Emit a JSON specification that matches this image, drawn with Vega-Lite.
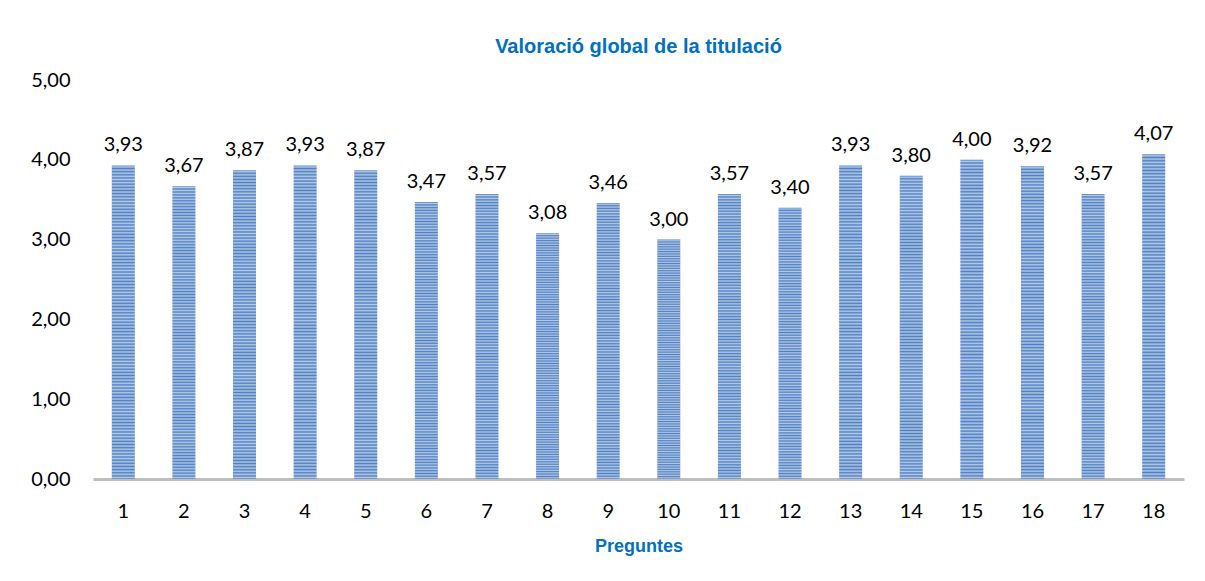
{
  "$schema": "https://vega.github.io/schema/vega-lite/v6.json",
  "width": 1091,
  "height": 399,
  "autosize": {"type": "none"},
  "padding": {"left": 93, "top": 80, "right": 21, "bottom": 102},
  "background": "white",
  "config": {
    "locale": {"number": {"decimal": ",", "thousands": ".", "grouping": [3], "currency": ["", " €"]}},
    "view": {"stroke": null},
    "font": "Lato"
  },
  "title": {
    "text": "Valoració global de la titulació",
    "font": "Liberation Sans",
    "fontSize": 20,
    "fontWeight": "bold",
    "color": "#0070C0",
    "anchor": "middle",
    "offset": 13
  },
  "data": {
    "values": [
      {"q": 1, "v": 3.93}, {"q": 2, "v": 3.67}, {"q": 3, "v": 3.87}, {"q": 4, "v": 3.93},
      {"q": 5, "v": 3.87}, {"q": 6, "v": 3.47}, {"q": 7, "v": 3.57}, {"q": 8, "v": 3.08},
      {"q": 9, "v": 3.46}, {"q": 10, "v": 3.00}, {"q": 11, "v": 3.57}, {"q": 12, "v": 3.40},
      {"q": 13, "v": 3.93}, {"q": 14, "v": 3.80}, {"q": 15, "v": 4.00}, {"q": 16, "v": 3.92},
      {"q": 17, "v": 3.57}, {"q": 18, "v": 4.07}
    ]
  },
  "encoding": {
    "x": {
      "field": "q", "type": "ordinal",
      "scale": {"paddingInner": 0.62, "paddingOuter": 0.31},
      "axis": {
        "title": "Preguntes", "titleFont": "Liberation Sans", "titleFontSize": 18, "titleFontWeight": "bold",
        "titleColor": "#0070C0", "titlePadding": 16,
        "labelAngle": 0, "labelFontSize": 20, "labelColor": "#000000", "labelPadding": 22,
        "ticks": false, "domainColor": "#BFBFBF", "domainWidth": 3
      }
    },
    "y": {
      "field": "v", "type": "quantitative",
      "scale": {"domain": [0, 5]},
      "axis": {
        "title": null, "values": [0, 1, 2, 3, 4, 5], "format": ".2f",
        "labelFontSize": 20, "labelColor": "#000000", "labelPadding": 23,
        "ticks": false, "domain": false, "grid": false
      }
    }
  },
  "layer": [
    {"mark": {"type": "bar", "color": {"gradient": "linear", "x1": 0, "y1": 0, "x2": 0, "y2": 1, "stops": [
      {"offset": 0, "color": "#4F7FC0"}, {"offset": 0.005, "color": "#B4CAE8"},
      {"offset": 0.01, "color": "#4F7FC0"}, {"offset": 0.015, "color": "#B4CAE8"},
      {"offset": 0.02, "color": "#4F7FC0"}, {"offset": 0.025, "color": "#B4CAE8"},
      {"offset": 0.03, "color": "#4F7FC0"}, {"offset": 0.035, "color": "#B4CAE8"},
      {"offset": 0.04, "color": "#4F7FC0"}, {"offset": 0.045, "color": "#B4CAE8"},
      {"offset": 0.05, "color": "#4F7FC0"}, {"offset": 0.055, "color": "#B4CAE8"},
      {"offset": 0.06, "color": "#4F7FC0"}, {"offset": 0.065, "color": "#B4CAE8"},
      {"offset": 0.07, "color": "#4F7FC0"}, {"offset": 0.075, "color": "#B4CAE8"},
      {"offset": 0.08, "color": "#4F7FC0"}, {"offset": 0.085, "color": "#B4CAE8"},
      {"offset": 0.09, "color": "#4F7FC0"}, {"offset": 0.095, "color": "#B4CAE8"},
      {"offset": 0.1, "color": "#4F7FC0"}, {"offset": 0.105, "color": "#B4CAE8"},
      {"offset": 0.11, "color": "#4F7FC0"}, {"offset": 0.115, "color": "#B4CAE8"},
      {"offset": 0.12, "color": "#4F7FC0"}, {"offset": 0.125, "color": "#B4CAE8"},
      {"offset": 0.13, "color": "#4F7FC0"}, {"offset": 0.135, "color": "#B4CAE8"},
      {"offset": 0.14, "color": "#4F7FC0"}, {"offset": 0.145, "color": "#B4CAE8"},
      {"offset": 0.15, "color": "#4F7FC0"}, {"offset": 0.155, "color": "#B4CAE8"},
      {"offset": 0.16, "color": "#4F7FC0"}, {"offset": 0.165, "color": "#B4CAE8"},
      {"offset": 0.17, "color": "#4F7FC0"}, {"offset": 0.175, "color": "#B4CAE8"},
      {"offset": 0.18, "color": "#4F7FC0"}, {"offset": 0.185, "color": "#B4CAE8"},
      {"offset": 0.19, "color": "#4F7FC0"}, {"offset": 0.195, "color": "#B4CAE8"},
      {"offset": 0.2, "color": "#4F7FC0"}, {"offset": 0.205, "color": "#B4CAE8"},
      {"offset": 0.21, "color": "#4F7FC0"}, {"offset": 0.215, "color": "#B4CAE8"},
      {"offset": 0.22, "color": "#4F7FC0"}, {"offset": 0.225, "color": "#B4CAE8"},
      {"offset": 0.23, "color": "#4F7FC0"}, {"offset": 0.235, "color": "#B4CAE8"},
      {"offset": 0.24, "color": "#4F7FC0"}, {"offset": 0.245, "color": "#B4CAE8"},
      {"offset": 0.25, "color": "#4F7FC0"}, {"offset": 0.255, "color": "#B4CAE8"},
      {"offset": 0.26, "color": "#4F7FC0"}, {"offset": 0.265, "color": "#B4CAE8"},
      {"offset": 0.27, "color": "#4F7FC0"}, {"offset": 0.275, "color": "#B4CAE8"},
      {"offset": 0.28, "color": "#4F7FC0"}, {"offset": 0.285, "color": "#B4CAE8"},
      {"offset": 0.29, "color": "#4F7FC0"}, {"offset": 0.295, "color": "#B4CAE8"},
      {"offset": 0.3, "color": "#4F7FC0"}, {"offset": 0.305, "color": "#B4CAE8"},
      {"offset": 0.31, "color": "#4F7FC0"}, {"offset": 0.315, "color": "#B4CAE8"},
      {"offset": 0.32, "color": "#4F7FC0"}, {"offset": 0.325, "color": "#B4CAE8"},
      {"offset": 0.33, "color": "#4F7FC0"}, {"offset": 0.335, "color": "#B4CAE8"},
      {"offset": 0.34, "color": "#4F7FC0"}, {"offset": 0.345, "color": "#B4CAE8"},
      {"offset": 0.35, "color": "#4F7FC0"}, {"offset": 0.355, "color": "#B4CAE8"},
      {"offset": 0.36, "color": "#4F7FC0"}, {"offset": 0.365, "color": "#B4CAE8"},
      {"offset": 0.37, "color": "#4F7FC0"}, {"offset": 0.375, "color": "#B4CAE8"},
      {"offset": 0.38, "color": "#4F7FC0"}, {"offset": 0.385, "color": "#B4CAE8"},
      {"offset": 0.39, "color": "#4F7FC0"}, {"offset": 0.395, "color": "#B4CAE8"},
      {"offset": 0.4, "color": "#4F7FC0"}, {"offset": 0.405, "color": "#B4CAE8"},
      {"offset": 0.41, "color": "#4F7FC0"}, {"offset": 0.415, "color": "#B4CAE8"},
      {"offset": 0.42, "color": "#4F7FC0"}, {"offset": 0.425, "color": "#B4CAE8"},
      {"offset": 0.43, "color": "#4F7FC0"}, {"offset": 0.435, "color": "#B4CAE8"},
      {"offset": 0.44, "color": "#4F7FC0"}, {"offset": 0.445, "color": "#B4CAE8"},
      {"offset": 0.45, "color": "#4F7FC0"}, {"offset": 0.455, "color": "#B4CAE8"},
      {"offset": 0.46, "color": "#4F7FC0"}, {"offset": 0.465, "color": "#B4CAE8"},
      {"offset": 0.47, "color": "#4F7FC0"}, {"offset": 0.475, "color": "#B4CAE8"},
      {"offset": 0.48, "color": "#4F7FC0"}, {"offset": 0.485, "color": "#B4CAE8"},
      {"offset": 0.49, "color": "#4F7FC0"}, {"offset": 0.495, "color": "#B4CAE8"},
      {"offset": 0.5, "color": "#4F7FC0"}, {"offset": 0.505, "color": "#B4CAE8"},
      {"offset": 0.51, "color": "#4F7FC0"}, {"offset": 0.515, "color": "#B4CAE8"},
      {"offset": 0.52, "color": "#4F7FC0"}, {"offset": 0.525, "color": "#B4CAE8"},
      {"offset": 0.53, "color": "#4F7FC0"}, {"offset": 0.535, "color": "#B4CAE8"},
      {"offset": 0.54, "color": "#4F7FC0"}, {"offset": 0.545, "color": "#B4CAE8"},
      {"offset": 0.55, "color": "#4F7FC0"}, {"offset": 0.555, "color": "#B4CAE8"},
      {"offset": 0.56, "color": "#4F7FC0"}, {"offset": 0.565, "color": "#B4CAE8"},
      {"offset": 0.57, "color": "#4F7FC0"}, {"offset": 0.575, "color": "#B4CAE8"},
      {"offset": 0.58, "color": "#4F7FC0"}, {"offset": 0.585, "color": "#B4CAE8"},
      {"offset": 0.59, "color": "#4F7FC0"}, {"offset": 0.595, "color": "#B4CAE8"},
      {"offset": 0.6, "color": "#4F7FC0"}, {"offset": 0.605, "color": "#B4CAE8"},
      {"offset": 0.61, "color": "#4F7FC0"}, {"offset": 0.615, "color": "#B4CAE8"},
      {"offset": 0.62, "color": "#4F7FC0"}, {"offset": 0.625, "color": "#B4CAE8"},
      {"offset": 0.63, "color": "#4F7FC0"}, {"offset": 0.635, "color": "#B4CAE8"},
      {"offset": 0.64, "color": "#4F7FC0"}, {"offset": 0.645, "color": "#B4CAE8"},
      {"offset": 0.65, "color": "#4F7FC0"}, {"offset": 0.655, "color": "#B4CAE8"},
      {"offset": 0.66, "color": "#4F7FC0"}, {"offset": 0.665, "color": "#B4CAE8"},
      {"offset": 0.67, "color": "#4F7FC0"}, {"offset": 0.675, "color": "#B4CAE8"},
      {"offset": 0.68, "color": "#4F7FC0"}, {"offset": 0.685, "color": "#B4CAE8"},
      {"offset": 0.69, "color": "#4F7FC0"}, {"offset": 0.695, "color": "#B4CAE8"},
      {"offset": 0.7, "color": "#4F7FC0"}, {"offset": 0.705, "color": "#B4CAE8"},
      {"offset": 0.71, "color": "#4F7FC0"}, {"offset": 0.715, "color": "#B4CAE8"},
      {"offset": 0.72, "color": "#4F7FC0"}, {"offset": 0.725, "color": "#B4CAE8"},
      {"offset": 0.73, "color": "#4F7FC0"}, {"offset": 0.735, "color": "#B4CAE8"},
      {"offset": 0.74, "color": "#4F7FC0"}, {"offset": 0.745, "color": "#B4CAE8"},
      {"offset": 0.75, "color": "#4F7FC0"}, {"offset": 0.755, "color": "#B4CAE8"},
      {"offset": 0.76, "color": "#4F7FC0"}, {"offset": 0.765, "color": "#B4CAE8"},
      {"offset": 0.77, "color": "#4F7FC0"}, {"offset": 0.775, "color": "#B4CAE8"},
      {"offset": 0.78, "color": "#4F7FC0"}, {"offset": 0.785, "color": "#B4CAE8"},
      {"offset": 0.79, "color": "#4F7FC0"}, {"offset": 0.795, "color": "#B4CAE8"},
      {"offset": 0.8, "color": "#4F7FC0"}, {"offset": 0.805, "color": "#B4CAE8"},
      {"offset": 0.81, "color": "#4F7FC0"}, {"offset": 0.815, "color": "#B4CAE8"},
      {"offset": 0.82, "color": "#4F7FC0"}, {"offset": 0.825, "color": "#B4CAE8"},
      {"offset": 0.83, "color": "#4F7FC0"}, {"offset": 0.835, "color": "#B4CAE8"},
      {"offset": 0.84, "color": "#4F7FC0"}, {"offset": 0.845, "color": "#B4CAE8"},
      {"offset": 0.85, "color": "#4F7FC0"}, {"offset": 0.855, "color": "#B4CAE8"},
      {"offset": 0.86, "color": "#4F7FC0"}, {"offset": 0.865, "color": "#B4CAE8"},
      {"offset": 0.87, "color": "#4F7FC0"}, {"offset": 0.875, "color": "#B4CAE8"},
      {"offset": 0.88, "color": "#4F7FC0"}, {"offset": 0.885, "color": "#B4CAE8"},
      {"offset": 0.89, "color": "#4F7FC0"}, {"offset": 0.895, "color": "#B4CAE8"},
      {"offset": 0.9, "color": "#4F7FC0"}, {"offset": 0.905, "color": "#B4CAE8"},
      {"offset": 0.91, "color": "#4F7FC0"}, {"offset": 0.915, "color": "#B4CAE8"},
      {"offset": 0.92, "color": "#4F7FC0"}, {"offset": 0.925, "color": "#B4CAE8"},
      {"offset": 0.93, "color": "#4F7FC0"}, {"offset": 0.935, "color": "#B4CAE8"},
      {"offset": 0.94, "color": "#4F7FC0"}, {"offset": 0.945, "color": "#B4CAE8"},
      {"offset": 0.95, "color": "#4F7FC0"}, {"offset": 0.955, "color": "#B4CAE8"},
      {"offset": 0.96, "color": "#4F7FC0"}, {"offset": 0.965, "color": "#B4CAE8"},
      {"offset": 0.97, "color": "#4F7FC0"}, {"offset": 0.975, "color": "#B4CAE8"},
      {"offset": 0.98, "color": "#4F7FC0"}, {"offset": 0.985, "color": "#B4CAE8"},
      {"offset": 0.99, "color": "#4F7FC0"}, {"offset": 0.995, "color": "#B4CAE8"},
      {"offset": 1, "color": "#4F7FC0"}
    ]}}},
    {
      "mark": {"type": "text", "fontSize": 20, "dy": -14, "baseline": "alphabetic", "color": "#000000"},
      "encoding": {"text": {"field": "v", "type": "quantitative", "format": ".2f"}}
    }
  ]
}
